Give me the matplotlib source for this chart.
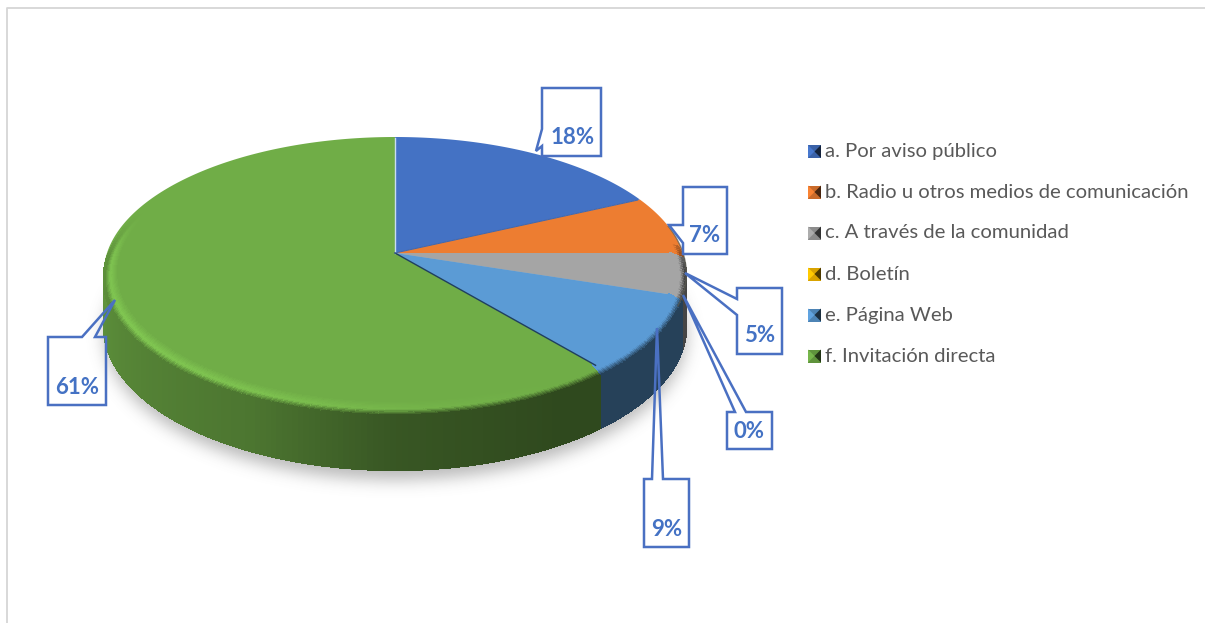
import numpy as np
import matplotlib
matplotlib.use("Agg")
import matplotlib.pyplot as plt
from matplotlib.collections import PolyCollection
from matplotlib.colors import to_rgb
from matplotlib.patches import Polygon
from matplotlib.path import Path

categories = ["a. Por aviso público", "b. Radio u otros medios de comunicación",
              "c. A través de la comunidad", "d. Boletín", "e. Página Web", "f. Invitación directa"]
shares = [18, 7, 5, 0, 9, 61]
colors = ["#4472C4", "#ED7D31", "#A5A5A5", "#FFC000", "#5B9BD5", "#70AD47"]
labels = ["18%", "7%", "5%", "0%", "9%", "61%"]

# pie projection (pixels), tilted disc with a bit of perspective
cx, cy = 395, 253
b, a, k = 288, 133.4, 0.150
depth = 51

# callout outlines and where the text sits
callouts = [
    [(542, 88), (601, 88), (601, 156), (542, 156), (542, 146), (536, 151), (542, 129)],
    [(683, 187), (727, 187), (727, 254), (683, 254), (683, 243), (669, 225), (683, 225)],
    [(737, 288), (782, 288), (782, 354), (737, 354), (737, 315), (685, 273), (737, 299)],
    [(727, 412), (735, 412), (683, 295), (746, 412), (772, 412), (772, 449), (727, 449)],
    [(644, 479), (652, 479), (657, 328), (663, 479), (689, 479), (689, 547), (644, 547)],
    [(48, 337), (82, 337), (115, 300), (95, 337), (106, 337), (106, 405), (48, 405)],
]
label_pos = [(573, 138), (705, 236), (760, 336), (749, 432), (667, 529), (77, 387)]
legend_y = [151.5, 192, 233, 274, 315, 356]


def project(theta, r=1.0, drop=0.0):
    theta = np.radians(theta)
    u, v = r * np.sin(theta), -r * np.cos(theta)
    s = 1 / (1 - k * v)
    return cx + b * u * s, cy + a * v * s + drop * s


def slice_color(theta):
    i = np.searchsorted(edges, theta % 360, side="right") - 1
    return np.array(to_rgb(colors[min(i, len(colors) - 1)]))


def wall_factor(theta):
    return np.interp(theta, [90, 150, 180, 205, 270, 285], [0.42, 0.42, 0.5, 0.68, 0.85, 0.95])


edges = np.concatenate([[0], np.cumsum(shares) * 3.6])
edges[-1] = 360

fig = plt.figure(figsize=(12.05, 6.23), dpi=100)
ax = fig.add_axes([0, 0, 1, 1])
ax.set_xlim(0, 1205)
ax.set_ylim(623, 0)
ax.axis("off")

# frame
ax.plot([7, 7, 1205], [623, 8, 8], color="#D6D6D6", lw=1.3)

# soft shadow under the disc
th = np.arange(0, 361, 2.0)
sx, sy = project(th, 1.0, depth + 8)
gx, gy = np.meshgrid(np.arange(1205), np.arange(623))
mask = Path(np.column_stack([sx, sy])).contains_points(np.column_stack([gx.ravel(), gy.ravel()]))
mask = mask.reshape(gx.shape).astype(float)
kernel = np.exp(-np.arange(-24, 25) ** 2 / (2 * 8.0 ** 2))
kernel /= kernel.sum()
mask = np.apply_along_axis(np.convolve, 0, mask, kernel, mode="same")
mask = np.apply_along_axis(np.convolve, 1, mask, kernel, mode="same")
shadow = np.zeros(mask.shape + (4,))
shadow[..., :3] = 0.35
shadow[..., 3] = mask * 0.42
ax.imshow(shadow, extent=(0, 1205, 623, 0), zorder=1, aspect="auto")
ax.set_xlim(0, 1205)
ax.set_ylim(623, 0)

# side wall
step = 1.0
polys, cols = [], []
bevel_drop = 5
for t in np.arange(78, 284, step):
    x0, y0 = project(np.array([t, t + step]), 1.0, bevel_drop)
    x1, y1 = project(np.array([t, t + step]), 1.0, depth)
    polys.append([(x0[0], y0[0]), (x0[1], y0[1]), (x1[1], y1[1]), (x1[0], y1[0])])
    cols.append(slice_color(t) * wall_factor(t))
ax.add_collection(PolyCollection(polys, facecolors=cols, edgecolors="face", linewidths=1.0,
                                 antialiaseds=False, zorder=2))

# top face, one wedge per share
for i, share in enumerate(shares):
    if share == 0:
        continue
    th = np.linspace(edges[i], edges[i + 1], 200)
    x, y = project(th)
    ax.add_patch(Polygon(np.column_stack([np.r_[cx, x], np.r_[cy, y]]), closed=True,
                         facecolor=colors[i], edgecolor="none", zorder=3))

# bevel along the front rim
polys, cols = [], []
rs = np.linspace(0.955, 1.0, 13)
for t in np.arange(85, 292, step):
    f = wall_factor(t)
    h = np.interp(t, [90, 150, 175, 205, 240, 270, 290], [0, 0, 0.25, 0.8, 1.0, 0.8, 0])
    fade = np.interp(t, [78, 95, 274, 292], [0, 1, 1, 0])
    base = slice_color(t)
    for j in range(len(rs) - 1):
        q = j / (len(rs) - 2)
        x0, y0 = project(np.array([t, t + step]), rs[j], bevel_drop * q)
        x1, y1 = project(np.array([t, t + step]), rs[j + 1], bevel_drop * (q + 1 / (len(rs) - 1)))
        light = np.clip(base * 1.16, 0, 1)
        top = base + (light - base) * h
        if q < 0.6:
            c = base + (top - base) * q / 0.6
        else:
            c = top + (base * f - top) * (q - 0.6) / 0.4
        c = base + (c - base) * fade
        polys.append([(x0[0], y0[0]), (x0[1], y0[1]), (x1[1], y1[1]), (x1[0], y1[0])])
        cols.append(c)
ax.add_collection(PolyCollection(polys, facecolors=cols, edgecolors="face", linewidths=0.8,
                                 antialiaseds=False, zorder=4))

# thin lines where wedges meet
x, y = project(edges[0], 0.99)
ax.plot([cx, x], [cy, y], color="#C9DDF0", lw=1.0, zorder=5)
x, y = project(edges[5], 0.97)
ax.plot([cx, x], [cy, y], color="#1F3F5F", lw=1.0, zorder=5)
x, y = project(edges[1], 0.99)
ax.plot([cx, x], [cy, y], color="#3E66AE", lw=0.7, zorder=5)
th = np.linspace(78, 112, 40)
x, y = project(th)
ax.plot(x, y, color="#5A5A50", lw=1.0, alpha=0.7, zorder=5)

# callouts
for pts, lab, pos in zip(callouts, labels, label_pos):
    ax.add_patch(Polygon(pts, closed=True, facecolor="none", edgecolor="#4A70C2", lw=1.8, zorder=6))
    ax.text(pos[0], pos[1], lab, color="#4472C4", fontsize=16, family="Lato", weight="bold",
            ha="center", va="center", zorder=7)

# legend
for name, col, y in zip(categories, colors, legend_y):
    c = np.array(to_rgb(col))
    ax.add_patch(Polygon([(808, y - 6.5), (821, y - 6.5), (821, y + 6.5), (808, y + 6.5)],
                         facecolor=c * 0.85, edgecolor="none", zorder=6))
    ax.add_patch(Polygon([(821, y - 6.5), (821, y + 6.5), (814.5, y)], facecolor=c * 0.3, edgecolor="none", zorder=7))
    ax.add_patch(Polygon([(808, y - 6.5), (808, y + 6.5), (814.5, y)], facecolor=np.clip(c * 1.05, 0, 1),
                         edgecolor="none", zorder=7))
    ax.text(825, y, name, color="#595959", fontsize=14.6, family="Lato", ha="left", va="center", zorder=7)

fig.savefig("out.png", dpi=100)
